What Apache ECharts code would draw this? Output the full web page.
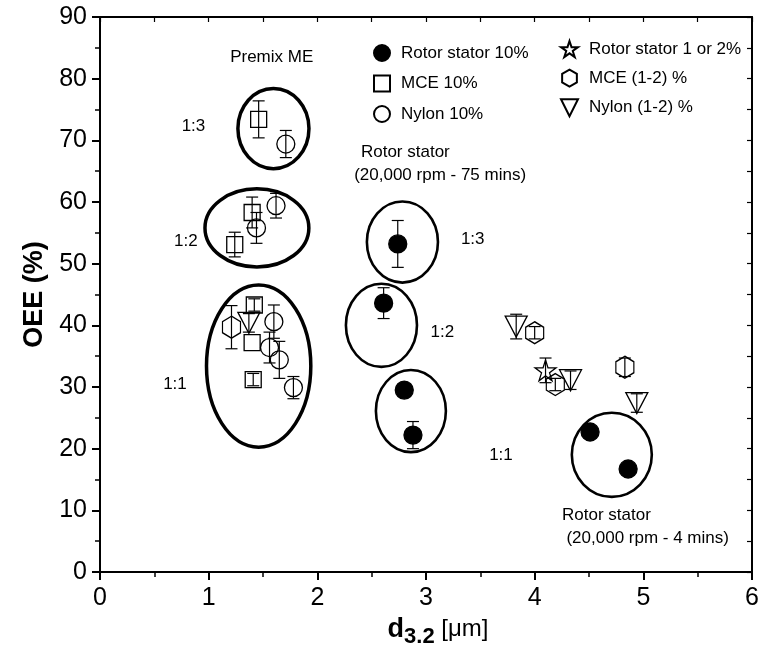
<!DOCTYPE html>
<html>
<head>
<meta charset="utf-8">
<script src="https://cdn.jsdelivr.net/npm/echarts@6/dist/echarts.min.js"></script>
<style>html,body{margin:0;padding:0;background:#fff}#main{width:762px;height:658px}</style>
</head>
<body>
<div id="main"></div>
<script>
// [d32, OEE, error]
var rotor10 = [[2.74,53.2,3.8],[2.61,43.6,2.5],[2.80,29.5,0],[2.88,22.2,2.2],[4.51,22.7,0],[4.86,16.7,0]];
var mce10 = [[1.46,73.4,3.0],[1.40,58.3,2.5],[1.24,53.1,2.0],[1.42,43.3,1.0],[1.40,37.2,0],[1.41,31.2,1.0]];
var nylon10 = [[1.71,69.4,2.2],[1.62,59.4,2.0],[1.44,55.8,2.5],[1.60,40.6,2.7],[1.56,36.4,2.5],[1.65,34.4,3.0],[1.78,29.9,1.8]];
var rotorLow = [[4.10,32.7,2.0]];
var mceLow = [[1.21,39.7,3.5],[4.00,38.8,1.0],[4.19,30.4,1.0],[4.83,33.2,1.5]];
var nylonLow = [[1.37,40.4,1.5],[3.83,39.8,2.0],[4.33,31.1,1.5],[4.94,27.4,1.5]];

// groups circled: [cx, cy, rx, ry]
var premixEllipses = [[1.596,71.9,0.327,6.5],[1.444,55.8,0.478,6.33],[1.46,33.4,0.48,13.15]];
var rotorEllipses = [[2.783,53.5,0.327,6.57],[2.590,40.0,0.327,6.74],[2.861,26.1,0.322,6.66],[4.71,19.0,0.368,6.82]];

var notes = [
  [1.58,83.4,'Premix ME'],
  [0.86,72.2,'1:3'],[0.79,53.7,'1:2'],[0.69,30.4,'1:1'],
  [2.81,68.0,'Rotor stator'],[3.13,64.4,'(20,000 rpm - 75 mins)'],
  [3.43,53.9,'1:3'],[3.15,38.8,'1:2'],[3.69,19.0,'1:1'],
  [4.66,9.25,'Rotor stator'],[5.04,5.5,'(20,000 rpm - 4 mins)']
];

var xTicks = [0,1,2,3,4,5,6];
var yTicks = [0,10,20,30,40,50,60,70,80,90];

var HEX = 'path://M0,-1L0.866,-0.5L0.866,0.5L0,1L-0.866,0.5L-0.866,-0.5Z';
var STAR = 'path://M0,-1L0.2245,-0.309L0.951,-0.309L0.363,0.118L0.588,0.809L0,0.382L-0.588,0.809L-0.363,0.118L-0.951,-0.309L-0.2245,-0.309Z';
var DOWN = 'path://M-1,-1L1,-1L0,1Z';
var FONT = 'Liberation Sans, Arial, sans-serif';

var myChart = echarts.init(document.getElementById('main'));

function ellipseSeries(arr, lw){
  return {
    type:'custom', silent:true, z:1,
    renderItem:function(params, api){
      var c = api.coord([api.value(0), api.value(1)]);
      var s = api.size([api.value(2), api.value(3)]);
      return {type:'ellipse', shape:{cx:c[0], cy:c[1], rx:s[0], ry:s[1]},
        style:{fill:'none', stroke:'#000', lineWidth:lw}};
    },
    data:arr
  };
}

var allPoints = [].concat(rotor10, mce10, nylon10, rotorLow, mceLow, nylonLow);

function pointSeries(name, arr, symbol, size, filled){
  return {
    name:name, type:'scatter', z:3,
    symbol:symbol, symbolSize:size,
    itemStyle:{color: filled ? '#000' : 'rgba(0,0,0,0)', borderColor:'#000', borderWidth:1.3, opacity:1},
    data:arr.map(function(p){ return [p[0], p[1]]; })
  };
}

var axisCommon = {
  min:0, axisLine:{onZero:false, lineStyle:{color:'#000', width:2}},
  splitLine:{show:false}
};

myChart.setOption({
  animation:false,
  textStyle:{fontFamily:FONT},
  grid:{left:100, right:10, top:17, bottom:86, containLabel:false},
  legend:[
    {data:['Rotor stator 10%','MCE 10%','Nylon 10%'], orient:'vertical', left:368, top:39,
     itemWidth:16, itemHeight:16, itemGap:12.5,
     textStyle:{fontSize:17, color:'#000', fontFamily:FONT, padding:[0,0,0,6]}},
    {data:['Rotor stator 1 or 2%','MCE (1-2) %','Nylon (1-2) %'], orient:'vertical', left:555, top:35,
     itemWidth:17, itemHeight:17, itemGap:10.5,
     textStyle:{fontSize:17, color:'#000', fontFamily:FONT, padding:[0,0,0,6]}}
  ],
  xAxis:[
    Object.assign({}, axisCommon, {
      type:'value', max:xTicks[xTicks.length-1], interval:1, position:'bottom',
      name:'{d|d}{s|3.2}{u| [\u03bcm]}', nameLocation:'middle', nameGap:36,
      nameTextStyle:{padding:[0,0,0,24], rich:{
        d:{fontSize:27, fontWeight:'bold', color:'#000', fontFamily:FONT},
        s:{fontSize:22, fontWeight:'bold', color:'#000', fontFamily:FONT, padding:[15,0,0,0]},
        u:{fontSize:24, color:'#000', fontFamily:FONT}
      }},
      axisTick:{inside:false, length:8, lineStyle:{width:2, color:'#000'}},
      minorTick:{show:true, splitNumber:2, length:5, lineStyle:{width:1.5, color:'#000'}},
      axisLabel:{fontSize:25, color:'#000', margin:14, fontFamily:FONT}
    }),
    Object.assign({}, axisCommon, {
      type:'value', max:6, interval:0.5, position:'top',
      axisTick:{inside:true, length:5, lineStyle:{width:1.2, color:'#000'}},
      axisLabel:{show:false}
    })
  ],
  yAxis:[
    Object.assign({}, axisCommon, {
      type:'value', max:yTicks[yTicks.length-1], interval:10, position:'left',
      name:'OEE (%)', nameLocation:'middle', nameGap:52,
      nameTextStyle:{fontSize:27, fontWeight:'bold', color:'#000', fontFamily:FONT},
      axisTick:{inside:false, length:8, lineStyle:{width:2, color:'#000'}},
      minorTick:{show:true, splitNumber:2, length:5, lineStyle:{width:1.5, color:'#000'}},
      axisLabel:{fontSize:25, color:'#000', margin:13, fontFamily:FONT}
    }),
    Object.assign({}, axisCommon, {
      type:'value', max:90, interval:5, position:'right',
      axisTick:{inside:true, length:5, lineStyle:{width:1.2, color:'#000'}},
      axisLabel:{show:false}
    })
  ],
  series:[
    ellipseSeries(premixEllipses, 3.5),
    ellipseSeries(rotorEllipses, 2.6),
    {
      type:'custom', silent:true, z:2,
      renderItem:function(params, api){
        var x = api.value(0), y = api.value(1), e = api.value(2);
        if (!e) return null;
        var top = api.coord([x, y + e]), bot = api.coord([x, y - e]);
        var w = 6;
        var st = {stroke:'#000', lineWidth:1.2};
        return {type:'group', children:[
          {type:'line', shape:{x1:top[0], y1:top[1], x2:bot[0], y2:bot[1]}, style:st},
          {type:'line', shape:{x1:top[0]-w, y1:top[1], x2:top[0]+w, y2:top[1]}, style:st},
          {type:'line', shape:{x1:bot[0]-w, y1:bot[1], x2:bot[0]+w, y2:bot[1]}, style:st}
        ]};
      },
      data:allPoints
    },
    pointSeries('Rotor stator 10%', rotor10, 'circle', 18, true),
    pointSeries('MCE 10%', mce10, 'rect', 16, false),
    pointSeries('Nylon 10%', nylon10, 'circle', 18, false),
    pointSeries('Rotor stator 1 or 2%', rotorLow, STAR, 21, false),
    pointSeries('MCE (1-2) %', mceLow, HEX, [18,22], false),
    pointSeries('Nylon (1-2) %', nylonLow, DOWN, [22,21], false),
    {
      type:'scatter', silent:true, symbolSize:0, z:4,
      itemStyle:{opacity:1},
      label:{show:true, position:'inside', formatter:'{b}', fontSize:17, color:'#000',
        textBorderWidth:0, fontFamily:FONT},
      data:notes.map(function(n){ return {name:n[2], value:[n[0], n[1]]}; })
    }
  ]
});
</script>
</body>
</html>
